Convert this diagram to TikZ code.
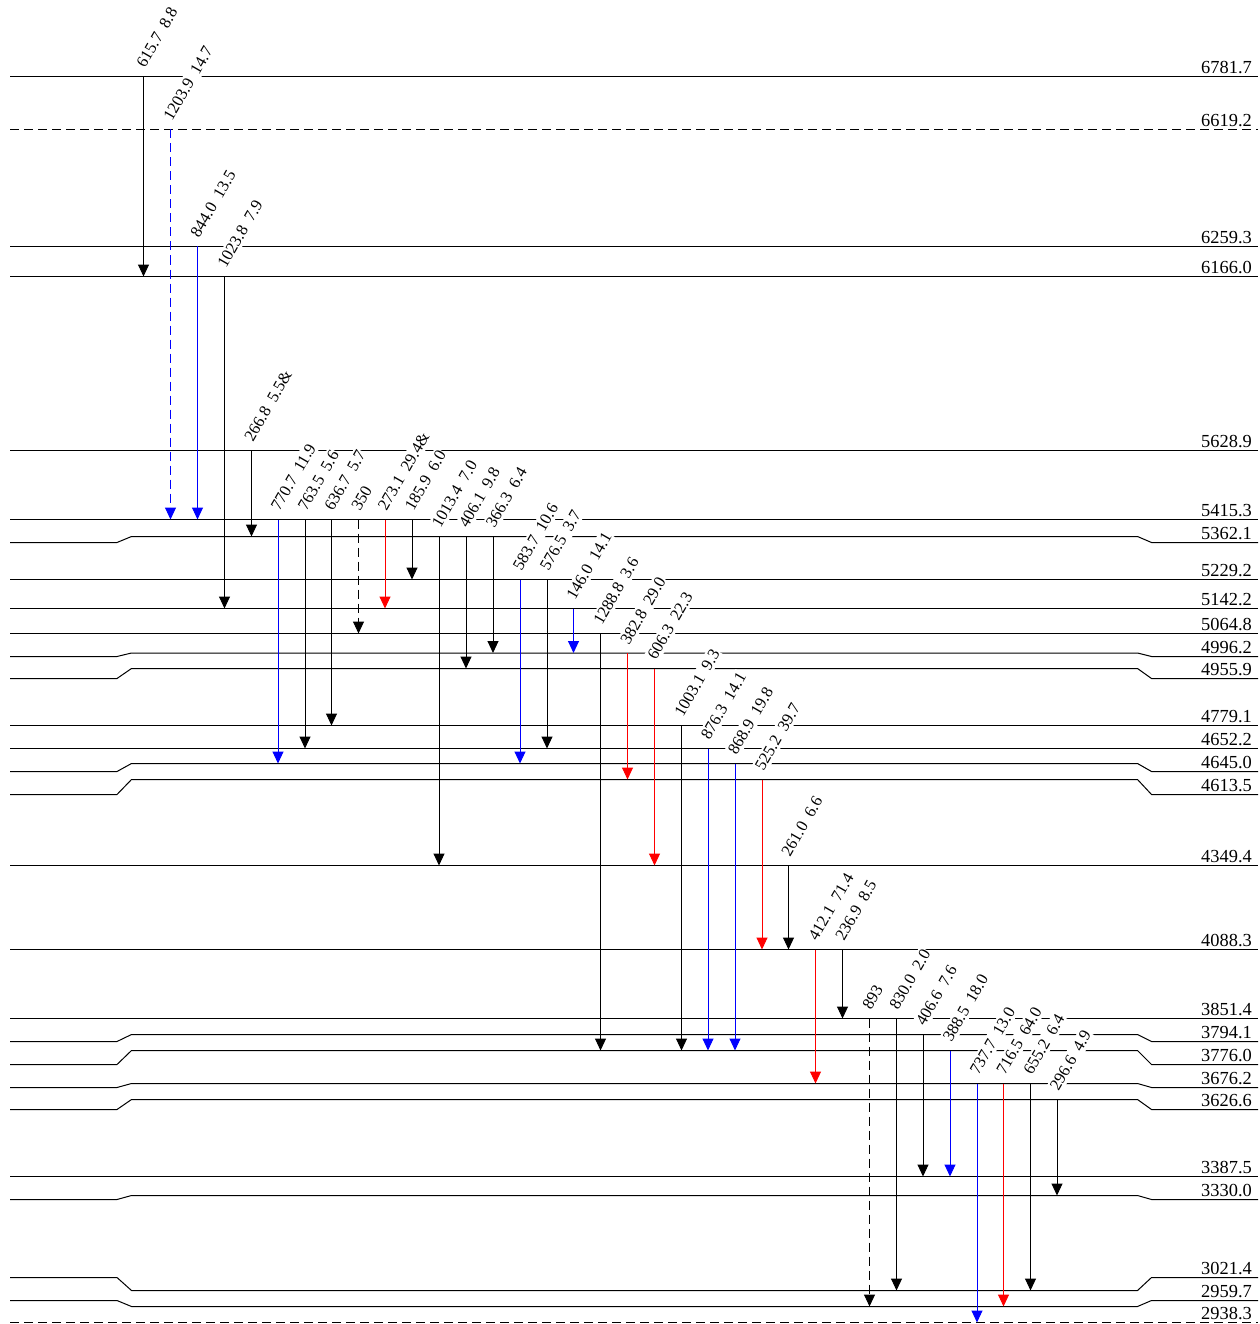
\documentclass[tikz,border=0pt]{standalone}
\usepackage{fontspec}
\setmainfont{Liberation Serif}
\usetikzlibrary{arrows.meta}

\begin{document}
\begin{tikzpicture}[
  x=1pt, y=-1pt,
  level/.style={line width=1pt},
  levdash/.style={level, dash pattern=on 9pt off 5pt},
  elabel/.style={anchor=base east, inner sep=0pt, font=\fontsize{18.4}{20}\selectfont},
  glabel/.style={anchor=base west, rotate=60, fill=white, inner xsep=1pt, inner ysep=2.5pt,
                 font=\fontsize{16.5}{20}\selectfont},
  gam/.style={line width=1pt, -{Triangle[length=12pt,width=11pt]}},
  gblk/.style={gam, black},
  gblu/.style={gam, blue},
  gred/.style={gam, red},
  gblkd/.style={gam, black, dash pattern=on 9pt off 5pt},
  gblud/.style={gam, blue, dash pattern=on 9pt off 5pt}
]
  \useasboundingbox (0,0) rectangle (1259,1324);

  \begin{scope}[yshift=-0.5pt]
  % levels: name / outer y / inner y / style / energy
  \foreach \lev/\yo/\yi/\sty/\txt in {
    6781/76/76/level/6781.7, 6619/129/129/levdash/6619.2,
    6259/246/246/level/6259.3, 6166/276/276/level/6166.0,
    5628/450/450/level/5628.9, 5415/519/519/level/5415.3,
    5362/542/536/level/5362.1, 5229/579/579/level/5229.2,
    5142/608/608/level/5142.2, 5064/633/633/level/5064.8,
    4996/656/652.5/level/4996.2, 4955/678/668/level/4955.9,
    4779/725/725/level/4779.1, 4652/748/748/level/4652.2,
    4645/771/763/level/4645.0, 4613/794/779/level/4613.5,
    4349/865/865/level/4349.4, 4088/949/949/level/4088.3,
    3851/1018/1018/level/3851.4, 3794/1041/1034/level/3794.1,
    3776/1064/1050/level/3776.0, 3676/1087/1083/level/3676.2,
    3626/1109/1099/level/3626.6, 3387/1176/1176/level/3387.5,
    3330/1199/1195/level/3330.0, 3021/1277/1290/level/3021.4,
    2959/1300/1306/level/2959.7, 2938/1322/1322/levdash/2938.3}{
    \coordinate (m\lev) at (0,\yi);
    \draw[\sty] (10,\yo) -- (117,\yo) -- (131.5,\yi) -- (1137.5,\yi)
      -- (1151.5,\yo) -- (1258,\yo);
    \node[elabel] (e\lev) at (1252,\yo-2.8) {\txt};
  }

  % transitions: x / from / to / style / label
  \foreach \x/\from/\to/\sty/\txt [count=\i] in {
    143.5/6781/6166/gblk/{615.7~~8.8}, 170.5/6619/5415/gblud/{1203.9~~14.7},
    197.5/6259/5415/gblu/{844.0~~13.5}, 224.5/6166/5142/gblk/{1023.8~~7.9},
    251.5/5628/5362/gblk/{266.8~~5.5\&}, 278/5415/4645/gblu/{770.7~~11.9},
    305/5415/4652/gblk/{763.5~~5.6}, 331.5/5415/4779/gblk/{636.7~~5.7},
    358.5/5415/5064/gblkd/{350}, 385/5415/5142/gred/{273.1~~29.4\&},
    412/5415/5229/gblk/{185.9~~6.0}, 439/5362/4349/gblk/{1013.4~~7.0},
    466/5362/4955/gblk/{406.1~~9.8}, 493/5362/4996/gblk/{366.3~~6.4},
    520/5229/4645/gblu/{583.7~~10.6}, 547/5229/4652/gblk/{576.5~~3.7},
    573.5/5142/4996/gblu/{146.0~~14.1}, 600.5/5064/3776/gblk/{1288.8~~3.6},
    627.5/4996/4613/gred/{382.8~~29.0}, 654.5/4955/4349/gred/{606.3~~22.3},
    681.5/4779/3776/gblk/{1003.1~~9.3}, 708/4652/3776/gblu/{876.3~~14.1},
    735/4645/3776/gblu/{868.9~~19.8}, 762/4613/4088/gred/{525.2~~39.7},
    788.5/4349/4088/gblk/{261.0~~6.6}, 815.5/4088/3676/gred/{412.1~~71.4},
    842.5/4088/3851/gblk/{236.9~~8.5}, 869.5/3851/2959/gblkd/{893},
    896.5/3851/3021/gblk/{830.0~~2.0}, 923/3794/3387/gblk/{406.6~~7.6},
    950/3776/3387/gblu/{388.5~~18.0}, 977/3676/2938/gblu/{737.7~~13.0},
    1003.5/3676/2959/gred/{716.5~~64.0}, 1030.5/3676/3021/gblk/{655.2~~6.4},
    1057/3626/3330/gblk/{296.6~~4.9}}{
    \coordinate (t\i) at (\x,0 |- m\from);
    \coordinate (b\i) at (\x,0 |- m\to);
    \node[glabel] (g\i) at ([xshift=1pt,yshift=6.5pt]t\i) {\txt};
    \draw[\sty] (t\i) -- (b\i);
  }
  \end{scope}
\end{tikzpicture}
\end{document}
